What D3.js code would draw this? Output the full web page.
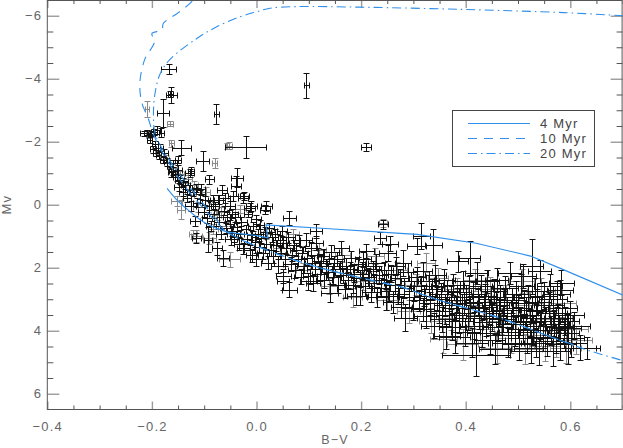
<!DOCTYPE html>
<html>
<head>
<meta charset="utf-8">
<script src="https://cdn.jsdelivr.net/npm/d3@7"></script>
<style>
  body { margin: 0; background: #fff; }
  svg { display: block; }
  text { font-family: "Liberation Sans", Arial, Helvetica, sans-serif; }
</style>
</head>
<body>
<svg id="chart" width="623" height="448"></svg>
<script>
// ---------------- data ----------------
const xTicks = [-0.4, -0.2, 0.0, 0.2, 0.4, 0.6];
const yTicks = [-6, -4, -2, 0, 2, 4, 6];
const legendLabels = ["4 Myr", "10 Myr", "20 Myr"];

// isochrones [B-V, Mv]
const iso4 = [
  [-0.171,-0.52],[-0.160,-0.30],[-0.152,-0.15],[-0.140,0.04],[-0.127,0.22],[-0.115,0.39],
  [-0.102,0.54],[-0.089,0.66],[-0.076,0.75],[-0.057,0.86],[-0.038,0.91],[-0.019,0.94],
  [0.000,0.98],[0.022,1.05],[0.018,0.64],[0.140,0.76],[0.275,0.91],[0.307,0.94],
  [0.420,1.22],[0.524,1.63],[0.581,2.02],[0.701,2.87]
];
const iso10 = [
  [-0.108,-6.90],[-0.121,-6.50],[-0.150,-6.09],[-0.178,-5.76],[-0.181,-5.55],[-0.200,-5.44],
  [-0.195,-5.18],[-0.214,-4.60],[-0.223,-3.86],[-0.219,-3.22],[-0.207,-2.74],[-0.200,-2.37],
  [-0.188,-1.90],[-0.171,-1.42],[-0.150,-0.88],[-0.127,-0.37],[-0.102,0.10],[-0.077,0.55],
  [-0.057,0.86],[0.020,1.44],[0.115,1.97],[0.242,2.48],[0.275,2.60],[0.338,2.97],
  [0.466,3.60],[0.562,4.19],[0.620,4.52]
];
const iso20 = [
  [0.701,-6.00],[0.587,-6.10],[0.396,-6.20],[0.205,-6.27],[0.077,-6.29],[0.026,-6.24],
  [0.001,-6.13],[-0.031,-5.97],[-0.076,-5.65],[-0.114,-5.28],[-0.165,-4.62],[-0.184,-4.17],
  [-0.194,-3.54],[-0.197,-2.90],[-0.194,-2.27],[-0.179,-1.74],[-0.156,-1.17],[-0.131,-0.63],
  [-0.108,-0.15],[-0.083,0.33],[-0.057,0.86],[0.020,1.44],[0.115,1.97],[0.242,2.48],
  [0.275,2.60],[0.338,2.97],[0.466,3.60],[0.562,4.19],[0.632,4.61],[0.701,4.95]
];

// stars [B-V, Mv, err(B-V), err(Mv)] drawn in grey (underneath)
const starsGrey = [
  [-0.209,-3.03,0.004,0.26],[-0.165,-2.55,0.006,0.08],[-0.162,-1.93,0.005,0.10],[-0.079,-1.31,0.005,0.15],
  [-0.052,-1.86,0.006,0.12],[-0.056,-1.84,0.004,0.10],[-0.152,-0.10,0.010,0.15],[-0.143,0.17,0.008,0.29],
  [-0.205,-2.20,0.005,0.10],[-0.188,-1.70,0.006,0.10],[-0.172,-1.45,0.006,0.12],[-0.160,-1.15,0.008,0.14],
  [-0.145,-0.95,0.008,0.12],[-0.130,-0.80,0.008,0.14],[-0.118,-0.60,0.008,0.14],[-0.110,0.10,0.010,0.16],
  [-0.095,-0.40,0.008,0.14],[-0.114,1.01,0.010,0.18],[-0.121,0.96,0.008,0.14],[-0.092,1.12,0.010,0.40],
  [-0.082,0.80,0.010,0.16],[-0.089,1.07,0.012,0.18],[-0.066,0.25,0.010,0.15],[-0.050,1.75,0.020,0.25],
  [-0.060,0.55,0.010,0.15],[-0.075,0.35,0.008,0.14],[-0.030,0.15,0.010,0.14],[0.017,0.17,0.010,0.14],
  [0.020,0.95,0.010,0.16],[0.045,1.40,0.012,0.18],[0.070,0.95,0.012,0.18],[0.090,2.10,0.014,0.22],
  [0.120,1.45,0.014,0.22],[0.140,2.60,0.016,0.26],[0.165,1.60,0.014,0.22],[0.185,2.95,0.018,0.30],
  [0.205,2.45,0.018,0.28],[0.228,1.65,0.016,0.26],[0.243,0.60,0.008,0.12],[0.250,3.05,0.020,0.32],
  [0.270,2.10,0.018,0.28],[0.292,3.40,0.022,0.36],[0.305,2.55,0.020,0.32],[0.325,1.85,0.018,0.30],
  [0.335,3.70,0.024,0.40],[0.348,2.35,0.020,0.34],[0.358,4.29,0.026,0.42],[0.372,3.60,0.024,0.40],
  [0.384,2.70,0.022,0.36],[0.395,4.45,0.030,0.48],[0.408,3.50,0.026,0.40],[0.418,2.40,0.022,0.36],
  [0.428,3.95,0.028,0.44],[0.438,3.20,0.026,0.40],[0.448,2.70,0.024,0.38],[0.460,4.55,0.030,0.48],
  [0.468,3.70,0.026,0.42],[0.478,2.95,0.024,0.40],[0.488,4.25,0.030,0.46],[0.498,3.55,0.026,0.42],
  [0.508,2.45,0.024,0.38],[0.515,4.60,0.032,0.48],[0.522,3.20,0.026,0.42],[0.532,4.15,0.030,0.46],
  [0.545,2.75,0.026,0.40],[0.552,4.50,0.030,0.48],[0.563,3.65,0.028,0.44],[0.574,4.40,0.030,0.46],
  [0.585,3.15,0.026,0.42],[0.592,4.55,0.030,0.48],[0.605,3.95,0.030,0.44],[0.612,4.30,0.030,0.44]
];

// stars drawn in black
const starsUpper = [
  [-0.167,-4.28,0.014,0.16],[-0.162,-3.48,0.010,0.25],[-0.164,-3.50,0.005,0.08],[-0.178,-2.90,0.012,0.45],
  [-0.215,-2.25,0.006,0.08],[-0.208,-2.27,0.006,0.08],[-0.200,-2.24,0.006,0.08],[-0.195,-2.30,0.005,0.10],
  [-0.190,-2.36,0.006,0.12],[-0.181,-2.27,0.005,0.15],[-0.197,-1.74,0.006,0.10],[-0.191,-1.62,0.006,0.10],
  [-0.186,-1.55,0.005,0.12],[-0.178,-1.42,0.006,0.12],[-0.143,-1.79,0.018,0.24],[-0.149,-1.42,0.006,0.12],
  [-0.165,-1.21,0.006,0.10],[-0.159,-1.05,0.008,0.12],[-0.155,-0.95,0.006,0.10],[-0.162,-1.02,0.007,0.15],
  [-0.152,-0.85,0.006,0.10],[-0.146,-0.78,0.008,0.15],[-0.140,-0.70,0.010,0.12],[-0.124,-1.05,0.006,0.12],
  [-0.135,-0.62,0.008,0.12],[-0.128,-0.45,0.008,0.15],[-0.120,-0.38,0.006,0.12],[-0.114,-0.52,0.008,0.12],
  [-0.108,-0.31,0.010,0.15],[-0.105,-0.47,0.008,0.18],[-0.102,-1.37,0.013,0.32],[-0.098,-0.12,0.010,0.14],
  [-0.089,-0.79,0.008,0.15],[-0.082,-0.15,0.010,0.15],[-0.078,0.05,0.008,0.12],[-0.070,-0.15,0.010,0.15],
  [-0.044,-0.26,0.010,0.15],[-0.038,-0.57,0.010,0.32],[-0.036,-0.84,0.012,0.30],[-0.022,-0.26,0.008,0.12],
  [-0.076,-2.87,0.005,0.32],[-0.020,-1.81,0.040,0.35],[0.096,-3.77,0.005,0.41],[0.211,-1.81,0.0095,0.12],
  [-0.203,-2.05,0.005,0.10],[-0.193,-1.90,0.006,0.10],[-0.183,-1.80,0.005,0.12],[-0.175,-1.62,0.006,0.12],
  [-0.170,-1.35,0.006,0.12],[-0.158,-1.30,0.007,0.12],[-0.150,-1.10,0.008,0.14],[-0.148,-0.55,0.008,0.14],
  [-0.140,-0.40,0.008,0.14],[-0.132,-0.20,0.008,0.14],[-0.127,-0.99,0.008,0.14],[-0.125,0.05,0.010,0.15],
  [-0.117,0.54,0.010,0.16],[-0.112,-0.05,0.008,0.14],[-0.100,0.25,0.010,0.15],[-0.094,0.45,0.010,0.15],
  [-0.090,0.05,0.008,0.14],[-0.086,0.70,0.010,0.16],[-0.080,0.30,0.010,0.15],[-0.073,-0.15,0.010,0.15],
  [-0.070,0.55,0.010,0.15],[-0.066,0.95,0.010,0.16],[-0.062,0.20,0.010,0.14],[-0.058,0.75,0.010,0.15],
  [-0.055,0.40,0.008,0.14],[-0.050,0.05,0.010,0.14],[-0.048,1.10,0.012,0.18],[-0.045,0.30,0.010,0.14],
  [-0.065,-0.45,0.010,0.15],[-0.060,-0.20,0.010,0.15],[-0.009,0.06,0.010,0.15],[0.020,0.06,0.010,0.15],
  [-0.063,1.70,0.012,0.25],[-0.075,1.40,0.010,0.20],[-0.092,1.12,0.008,0.40],[-0.114,1.07,0.008,0.15]
];
const starsMiddle = [
  [-0.050,0.62,0.008,0.12],[-0.046,0.85,0.010,0.15],[-0.042,1.05,0.008,0.14],[-0.040,0.40,0.010,0.16],
  [-0.036,0.72,0.008,0.12],[-0.033,1.25,0.010,0.20],[-0.030,0.95,0.008,0.13],[-0.028,0.55,0.010,0.15],
  [-0.025,-0.20,0.010,0.15],[-0.024,1.40,0.012,0.18],[-0.020,0.80,0.008,0.14],[-0.018,1.10,0.010,0.15],
  [-0.015,0.30,0.008,0.12],[-0.012,0.11,0.010,0.15],[-0.012,1.44,0.010,0.16],[-0.010,0.98,0.008,0.15],
  [-0.008,1.62,0.012,0.20],[-0.005,0.70,0.010,0.14],[-0.002,1.20,0.008,0.16],[0.000,0.48,0.010,0.15],
  [0.000,1.75,0.012,0.20],[0.003,0.95,0.010,0.15],[0.006,1.35,0.010,0.18],[0.008,0.65,0.008,0.14],
  [0.010,1.08,0.010,0.15],[0.013,1.55,0.012,0.18],[0.017,0.17,0.010,0.14],[0.018,0.88,0.010,0.16],
  [0.020,1.25,0.012,0.17],[0.022,1.85,0.012,0.22],[0.025,0.75,0.010,0.15],[0.028,1.45,0.010,0.18],
  [0.030,1.05,0.012,0.16],[0.033,1.65,0.012,0.20],[0.036,0.95,0.010,0.17],[0.038,1.30,0.012,0.18],
  [0.042,1.95,0.014,0.22],[0.045,1.15,0.012,0.16],[0.048,1.55,0.012,0.20],[0.050,0.85,0.010,0.15],
  [0.052,1.22,0.012,0.18],[0.052,2.28,0.014,0.22],[0.052,2.44,0.012,0.28],[0.055,1.75,0.012,0.20],
  [0.058,1.40,0.012,0.18],[0.062,1.05,0.012,0.18],[0.064,0.43,0.012,0.22],[0.064,2.71,0.015,0.25],
  [0.066,1.90,0.014,0.22],[0.068,1.60,0.012,0.20],[0.072,1.30,0.012,0.18],[0.075,2.10,0.014,0.24],
  [0.077,1.44,0.012,0.20],[0.080,1.75,0.012,0.20],[0.083,1.15,0.012,0.18],[0.086,2.30,0.014,0.24],
  [0.088,1.55,0.012,0.20],[0.092,1.95,0.014,0.22],[0.096,1.12,0.012,0.20],[0.098,1.70,0.012,0.22],
  [0.100,2.45,0.016,0.26],[0.103,2.28,0.014,0.24],[0.105,1.40,0.012,0.20],[0.108,1.85,0.014,0.22],
  [0.109,2.49,0.014,0.25],[0.112,2.05,0.014,0.24],[0.115,0.86,0.012,0.22],[0.115,1.22,0.014,0.22],
  [0.118,1.60,0.012,0.22],[0.122,2.20,0.014,0.24],[0.125,1.80,0.014,0.22],[0.128,1.65,0.012,0.22],
  [0.130,2.40,0.016,0.26],[0.134,1.95,0.014,0.22],[0.138,2.15,0.014,0.24],[0.141,2.81,0.016,0.28],
  [0.144,1.50,0.014,0.22],[0.148,2.30,0.014,0.24],[0.150,1.85,0.014,0.22],[0.154,1.75,0.014,0.22],
  [0.157,2.55,0.016,0.26],[0.160,2.05,0.014,0.24],[0.163,1.40,0.014,0.22],[0.166,2.25,0.016,0.24],
  [0.170,2.70,0.016,0.28],[0.173,1.95,0.014,0.24],[0.176,2.40,0.016,0.26],[0.179,2.07,0.014,0.24],
  [0.182,1.70,0.014,0.22],[0.185,2.55,0.016,0.28],[0.188,2.20,0.016,0.26],[0.192,2.90,0.018,0.30],
  [0.195,1.90,0.014,0.24],[0.198,2.92,0.016,0.28],[0.198,2.35,0.016,0.26]
];
const starsLower = [
  [0.202,2.10,0.016,0.26],[0.205,1.75,0.015,0.25],[0.208,2.60,0.018,0.30],[0.211,1.49,0.015,0.24],
  [0.211,1.97,0.016,0.26],[0.214,2.30,0.016,0.28],[0.217,2.39,0.018,0.28],[0.220,2.80,0.018,0.30],
  [0.223,2.05,0.016,0.26],[0.226,2.50,0.018,0.30],[0.230,1.85,0.016,0.26],[0.232,2.95,0.020,0.32],
  [0.236,2.25,0.016,0.28],[0.237,1.07,0.012,0.20],[0.239,2.65,0.018,0.30],[0.243,0.64,0.010,0.15],
  [0.245,2.10,0.016,0.28],[0.248,2.40,0.018,0.30],[0.249,2.92,0.020,0.45],[0.252,1.54,0.016,0.26],
  [0.255,2.75,0.018,0.32],[0.256,1.25,0.016,0.24],[0.258,2.20,0.018,0.28],[0.262,3.10,0.020,0.35],
  [0.265,2.55,0.018,0.30],[0.268,1.95,0.016,0.28],[0.272,2.85,0.020,0.32],[0.275,2.35,0.018,0.30],
  [0.278,3.25,0.020,0.35],[0.281,1.86,0.016,0.42],[0.283,2.65,0.018,0.32],[0.285,3.60,0.022,0.42],
  [0.290,2.15,0.018,0.30],[0.293,2.95,0.020,0.34],[0.296,2.45,0.018,0.30],[0.300,3.30,0.022,0.36],
  [0.303,2.75,0.020,0.32],[0.307,1.33,0.018,0.26],[0.308,2.30,0.018,0.30],[0.312,3.05,0.020,0.34],
  [0.315,2.60,0.020,0.32],[0.316,1.01,0.016,0.41],[0.319,2.13,0.018,0.30],[0.319,3.34,0.022,0.36],
  [0.322,2.90,0.020,0.34],[0.326,3.55,0.024,0.38],[0.330,2.45,0.020,0.32],[0.333,3.15,0.022,0.36],
  [0.336,2.70,0.020,0.34],[0.339,1.28,0.016,0.50],[0.340,3.85,0.024,0.40],[0.343,2.25,0.020,0.32],
  [0.345,2.60,0.020,0.34],[0.347,3.00,0.022,0.36],[0.350,3.40,0.024,0.38],[0.353,2.85,0.022,0.36],
  [0.356,3.65,0.024,0.40],[0.360,2.40,0.020,0.34],[0.362,3.20,0.022,0.36],[0.364,4.19,0.026,0.40],
  [0.366,2.75,0.022,0.36],[0.369,3.50,0.024,0.38],[0.372,2.95,0.022,0.36],[0.375,3.90,0.026,0.42],
  [0.377,2.55,0.020,0.34],[0.380,4.20,0.030,0.53],[0.382,3.30,0.024,0.38],[0.385,3.05,0.022,0.38],
  [0.386,1.81,0.020,0.34],[0.388,3.70,0.026,0.40],[0.390,2.80,0.022,0.36],[0.393,3.45,0.024,0.40],
  [0.396,2.45,0.022,0.34],[0.398,3.15,0.024,0.38],[0.400,4.05,0.028,0.44],[0.402,2.95,0.024,0.38],
  [0.405,3.60,0.026,0.40],[0.407,2.65,0.022,0.36],[0.409,1.70,0.020,0.54],[0.410,3.30,0.024,0.40],
  [0.413,4.40,0.030,0.46],[0.415,2.85,0.024,0.38],[0.417,3.85,0.026,0.42],[0.420,4.77,0.065,0.68],
  [0.422,2.18,0.022,0.36],[0.424,3.10,0.024,0.40],[0.427,3.55,0.026,0.42],[0.430,2.60,0.022,0.36],
  [0.432,4.10,0.028,0.44],[0.435,3.25,0.026,0.40],[0.437,2.90,0.024,0.38],[0.440,3.75,0.026,0.42],
  [0.442,2.45,0.022,0.36],[0.445,3.40,0.026,0.40],[0.447,4.30,0.030,0.46],[0.450,3.00,0.024,0.40],
  [0.452,3.60,0.026,0.42],[0.455,2.75,0.024,0.38],[0.457,4.60,0.030,0.48],[0.458,3.20,0.026,0.40],
  [0.460,2.39,0.022,0.36],[0.462,3.90,0.028,0.44],[0.465,3.45,0.026,0.42],[0.467,2.95,0.024,0.40],
  [0.470,4.15,0.030,0.46],[0.472,3.65,0.026,0.42],[0.475,3.10,0.026,0.40],[0.477,2.65,0.024,0.38],
  [0.480,3.35,0.026,0.42],[0.482,4.40,0.030,0.46],[0.485,2.18,0.022,0.36],[0.487,3.80,0.028,0.44],
  [0.490,3.05,0.026,0.40],[0.492,3.55,0.026,0.42],[0.495,4.05,0.030,0.46],[0.497,2.85,0.024,0.40],
  [0.500,3.30,0.026,0.42],[0.502,4.45,0.032,0.48],[0.505,3.70,0.028,0.44],[0.507,2.60,0.024,0.38],
  [0.510,3.95,0.030,0.46],[0.511,2.28,0.024,0.38],[0.513,3.15,0.026,0.42],[0.516,3.50,0.028,0.44],
  [0.518,4.25,0.030,0.46],[0.520,2.95,0.026,0.40],[0.523,3.75,0.028,0.44],[0.525,4.55,0.032,0.48],
  [0.527,1.97,0.022,0.88],[0.528,3.35,0.026,0.42],[0.530,4.00,0.030,0.46],[0.533,2.75,0.026,0.40],
  [0.535,3.60,0.028,0.44],[0.536,4.40,0.030,0.46],[0.538,3.10,0.026,0.42],[0.541,4.66,0.055,0.43],
  [0.543,2.13,0.022,0.36],[0.543,3.85,0.028,0.44],[0.545,3.40,0.028,0.44],[0.548,4.20,0.030,0.46],
  [0.550,2.90,0.026,0.42],[0.553,3.70,0.028,0.44],[0.557,4.35,0.030,0.46],[0.560,3.20,0.028,0.42],
  [0.562,2.60,0.024,0.40],[0.565,4.00,0.030,0.46],[0.567,3.45,0.028,0.44],[0.568,3.02,0.026,0.42],
  [0.568,4.66,0.032,0.48],[0.570,3.80,0.028,0.44],[0.573,4.25,0.030,0.46],[0.575,2.85,0.026,0.42],
  [0.578,3.60,0.028,0.44],[0.580,3.90,0.026,0.40],[0.581,2.71,0.025,0.30],[0.582,4.45,0.030,0.48],
  [0.584,2.49,0.024,0.40],[0.586,3.30,0.028,0.44],[0.588,4.10,0.030,0.46],[0.590,3.70,0.028,0.44],
  [0.594,3.92,0.028,0.44],[0.597,4.26,0.030,0.80],[0.600,3.50,0.028,0.44],[0.603,4.40,0.030,0.46],
  [0.608,3.85,0.030,0.44],[0.620,4.56,0.030,0.40],[0.632,4.56,0.026,0.36]
];

// ---------------- drawing ----------------
const W = 623, H = 448;
const x = d3.scaleLinear().domain([-0.4, 0.7]).range([47.3, 622.6]);
const y = d3.scaleLinear().domain([-6.5, 6.5]).range([0, 409.5]);
const svg = d3.select("#chart");

const axisColor = "#555";
const majorColor = "#9a9a9a";
const labelColor = "#666";

svg.append("defs").append("clipPath").attr("id", "plotclip")
  .append("rect").attr("x", x(-0.4)).attr("y", y(-6.5))
  .attr("width", x(0.7) - x(-0.4)).attr("height", y(6.5) - y(-6.5));

const xMinor = d3.range(-0.4, 0.7001, 0.05).map(v => +v.toFixed(2)).filter(v => Math.abs(v * 5 - Math.round(v * 5)) > 1e-6);
const yMinor = d3.range(-6, 6.001, 0.5).filter(v => v % 2 !== 0);

const fmtX = d3.format(".1f");
const fmtY = d3.format("d");

function styleAxis(g, color, width) {
  g.select(".domain").remove();
  g.selectAll(".tick line").attr("stroke", color).attr("stroke-width", width);
  g.selectAll(".tick text").attr("fill", labelColor).attr("font-size", 13)
    .attr("letter-spacing", "1.2px")
    .attr("font-family", "'Liberation Sans', Arial, sans-serif");
}

// bottom
svg.append("g").attr("transform", `translate(0,${y(6.5)})`)
  .call(d3.axisBottom(x).tickValues(xMinor).tickSizeInner(-4).tickSizeOuter(0).tickFormat(""))
  .call(g => styleAxis(g, axisColor, 1));
svg.append("g").attr("transform", `translate(0,${y(6.5)})`)
  .call(d3.axisBottom(x).tickValues(xTicks).tickSizeInner(-8).tickSizeOuter(0).tickPadding(12).tickFormat(fmtX))
  .call(g => styleAxis(g, majorColor, 1.4));
// top
svg.append("g").attr("transform", `translate(0,${y(-6.5)})`)
  .call(d3.axisTop(x).tickValues(xMinor).tickSizeInner(-4).tickSizeOuter(0).tickFormat(""))
  .call(g => styleAxis(g, axisColor, 1));
svg.append("g").attr("transform", `translate(0,${y(-6.5)})`)
  .call(d3.axisTop(x).tickValues(xTicks).tickSizeInner(-8).tickSizeOuter(0).tickFormat(""))
  .call(g => styleAxis(g, majorColor, 1.4));
// left
svg.append("g").attr("transform", `translate(${x(-0.4)},0)`)
  .call(d3.axisLeft(y).tickValues(yMinor).tickSizeInner(-6).tickSizeOuter(0).tickFormat(""))
  .call(g => styleAxis(g, axisColor, 1));
svg.append("g").attr("transform", `translate(${x(-0.4)},0)`)
  .call(d3.axisLeft(y).tickValues(yTicks).tickSizeInner(-12).tickSizeOuter(0).tickPadding(5).tickFormat(fmtY))
  .call(g => styleAxis(g, majorColor, 1.4));
// right
svg.append("g").attr("transform", `translate(${x(0.7)},0)`)
  .call(d3.axisRight(y).tickValues(yMinor).tickSizeInner(-6).tickSizeOuter(0).tickFormat(""))
  .call(g => styleAxis(g, axisColor, 1));
svg.append("g").attr("transform", `translate(${x(0.7)},0)`)
  .call(d3.axisRight(y).tickValues(yTicks).tickSizeInner(-12).tickSizeOuter(0).tickFormat(""))
  .call(g => styleAxis(g, majorColor, 1.4));

// frame
svg.append("rect")
  .attr("x", x(-0.4)).attr("y", y(-6.5) + 0.5)
  .attr("width", x(0.7) - x(-0.4) - 0.5).attr("height", y(6.5) - y(-6.5) - 0.5)
  .attr("fill", "none").attr("stroke", axisColor).attr("stroke-width", 1);

// axis titles
svg.append("text").attr("x", (x(-0.4) + x(0.7)) / 2).attr("y", 444)
  .attr("text-anchor", "middle").attr("font-size", 12.5).attr("letter-spacing", "1.2px")
  .attr("fill", labelColor).text("B\u2212V");
svg.append("text").attr("transform", `translate(11,${(y(-6.5) + y(6.5)) / 2}) rotate(-90)`)
  .attr("text-anchor", "middle").attr("font-size", 13).attr("letter-spacing", "1px")
  .attr("fill", labelColor).text("Mv");

// error bars
const plot = svg.append("g").attr("clip-path", "url(#plotclip)");
const snap = v => Math.round(v - 0.5) + 0.5;
const cap = 3;
function errPath(d) {
  const cx = snap(x(d[0])), cy = snap(y(d[1]));
  const x0 = snap(x(d[0] - d[2])), x1 = snap(x(d[0] + d[2]));
  const y0 = snap(y(d[1] - d[3])), y1 = snap(y(d[1] + d[3]));
  return `M${x0},${cy}H${x1}M${cx},${y0}V${y1}` +
    `M${x0},${cy - cap}V${cy + cap}M${x1},${cy - cap}V${cy + cap}` +
    `M${cx - cap},${y0}H${cx + cap}M${cx - cap},${y1}H${cx + cap}`;
}
plot.append("g").selectAll("path").data(starsGrey).join("path")
  .attr("d", errPath).attr("fill", "none").attr("stroke", "#8a8a8a").attr("stroke-width", 1);
plot.append("g").selectAll("path").data(starsUpper.concat(starsMiddle, starsLower)).join("path")
  .attr("d", errPath).attr("fill", "none").attr("stroke", "#111").attr("stroke-width", 1);

// isochrones
const blue = "#2f8fea";
const lineLin = d3.line().x(d => x(d[0])).y(d => y(d[1]));
const lineSmooth = d3.line().x(d => x(d[0])).y(d => y(d[1])).curve(d3.curveCatmullRom.alpha(0.5));
plot.append("path").datum(iso4).attr("d", lineLin)
  .attr("fill", "none").attr("stroke", blue).attr("stroke-width", 1.1);
plot.append("path").datum(iso10).attr("d", lineSmooth)
  .attr("fill", "none").attr("stroke", blue).attr("stroke-width", 1.1).attr("stroke-dasharray", "9,7");
plot.append("path").datum(iso20).attr("d", lineSmooth)
  .attr("fill", "none").attr("stroke", blue).attr("stroke-width", 1.1).attr("stroke-dasharray", "9,4,1.5,4");

// legend
const lg = svg.append("g");
lg.append("rect").attr("x", 452.5).attr("y", 110.5).attr("width", 142).attr("height", 56)
  .attr("fill", "#fff").attr("stroke", "#444").attr("stroke-width", 1);
const dashes = [null, "9,7", "9,4,1.5,4"];
legendLabels.forEach((lab, i) => {
  const ly = 123.5 + i * 15;
  lg.append("line").attr("x1", 468).attr("x2", 530).attr("y1", ly).attr("y2", ly)
    .attr("stroke", blue).attr("stroke-width", 1.1)
    .attr("stroke-dasharray", dashes[i]);
  lg.append("text").attr("x", 540).attr("y", ly + 4.5).attr("font-size", 13)
    .attr("letter-spacing", "1.2px").attr("fill", "#444").text(lab);
});
</script>
</body>
</html>
